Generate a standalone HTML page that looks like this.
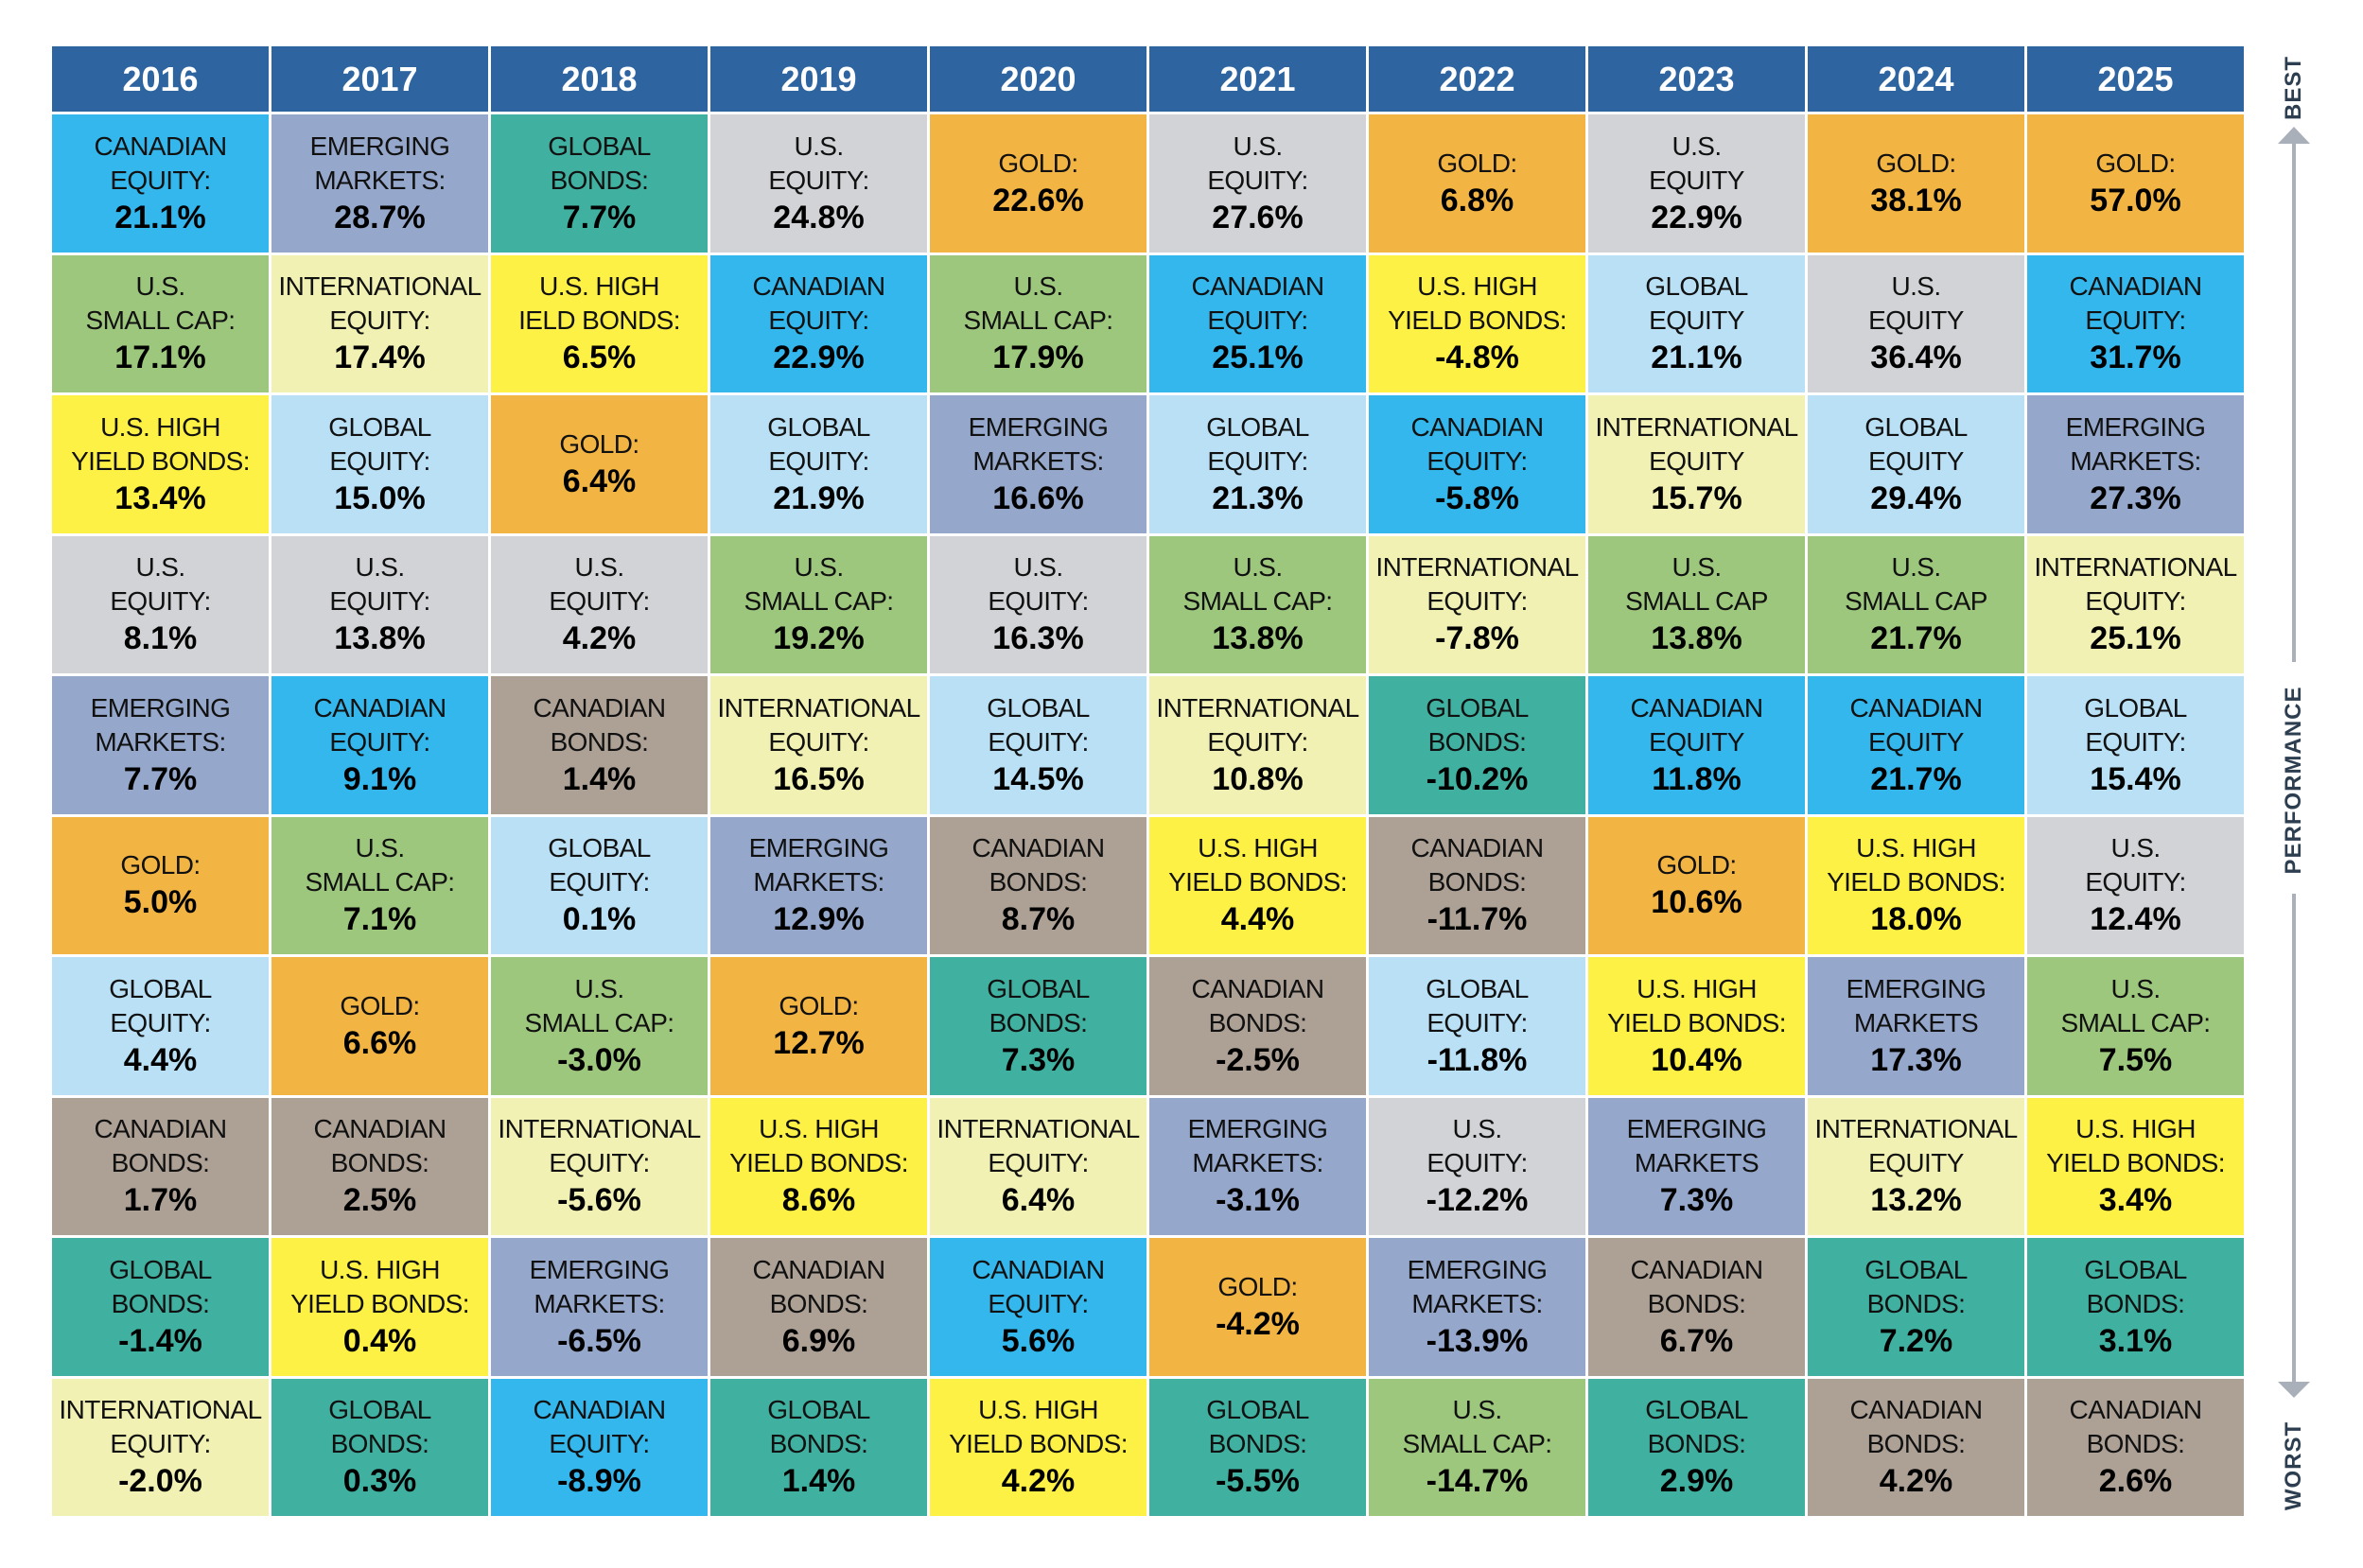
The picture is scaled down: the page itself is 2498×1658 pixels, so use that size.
<!DOCTYPE html>
<html><head><meta charset="utf-8"><style>
body{margin:0;width:2498px;height:1658px;background:#fff;position:relative;overflow:hidden;font-family:"Liberation Sans",sans-serif}
.g{position:absolute;left:55px;display:grid;grid-template-columns:repeat(10,229px);column-gap:3px}
.h{top:49px;height:69px}
.h div{background:#2e65a0;color:#fff;font-weight:bold;font-size:36px;display:flex;align-items:center;justify-content:center}
.b{top:121px;grid-template-rows:repeat(10,145.5px);row-gap:3px;grid-auto-flow:column}
.b div{display:flex;flex-direction:column;justify-content:center;align-items:center;text-align:center;font-size:28px;line-height:36px;letter-spacing:-0.6px;color:#111;white-space:nowrap}
.b b{display:block;font-size:34px;line-height:42px;letter-spacing:0;color:#000}
.ce{background:#33b7ec}.em{background:#95a7cb}.gb{background:#40b0a0}.ue{background:#d1d3d6}.go{background:#f2b544}
.sc{background:#9dc77d}.ie{background:#f1f1b4}.hy{background:#fef146}.ge{background:#b9e0f5}.cb{background:#ada196}
.side{position:absolute;color:#2c3e50;font-weight:bold;font-size:24px;letter-spacing:1px;transform:rotate(-90deg);transform-origin:center;white-space:nowrap;text-align:center}
</style></head><body>
<div class="g h"><div>2016</div><div>2017</div><div>2018</div><div>2019</div><div>2020</div><div>2021</div><div>2022</div><div>2023</div><div>2024</div><div>2025</div></div>
<div class="g b">
<div class="ce">CANADIAN<br>EQUITY:<b>21.1%</b></div>
<div class="sc">U.S.<br>SMALL CAP:<b>17.1%</b></div>
<div class="hy">U.S. HIGH<br>YIELD BONDS:<b>13.4%</b></div>
<div class="ue">U.S.<br>EQUITY:<b>8.1%</b></div>
<div class="em">EMERGING<br>MARKETS:<b>7.7%</b></div>
<div class="go">GOLD:<b>5.0%</b></div>
<div class="ge">GLOBAL<br>EQUITY:<b>4.4%</b></div>
<div class="cb">CANADIAN<br>BONDS:<b>1.7%</b></div>
<div class="gb">GLOBAL<br>BONDS:<b>-1.4%</b></div>
<div class="ie">INTERNATIONAL<br>EQUITY:<b>-2.0%</b></div>

<div class="em">EMERGING<br>MARKETS:<b>28.7%</b></div>
<div class="ie">INTERNATIONAL<br>EQUITY:<b>17.4%</b></div>
<div class="ge">GLOBAL<br>EQUITY:<b>15.0%</b></div>
<div class="ue">U.S.<br>EQUITY:<b>13.8%</b></div>
<div class="ce">CANADIAN<br>EQUITY:<b>9.1%</b></div>
<div class="sc">U.S.<br>SMALL CAP:<b>7.1%</b></div>
<div class="go">GOLD:<b>6.6%</b></div>
<div class="cb">CANADIAN<br>BONDS:<b>2.5%</b></div>
<div class="hy">U.S. HIGH<br>YIELD BONDS:<b>0.4%</b></div>
<div class="gb">GLOBAL<br>BONDS:<b>0.3%</b></div>

<div class="gb">GLOBAL<br>BONDS:<b>7.7%</b></div>
<div class="hy">U.S. HIGH<br>IELD BONDS:<b>6.5%</b></div>
<div class="go">GOLD:<b>6.4%</b></div>
<div class="ue">U.S.<br>EQUITY:<b>4.2%</b></div>
<div class="cb">CANADIAN<br>BONDS:<b>1.4%</b></div>
<div class="ge">GLOBAL<br>EQUITY:<b>0.1%</b></div>
<div class="sc">U.S.<br>SMALL CAP:<b>-3.0%</b></div>
<div class="ie">INTERNATIONAL<br>EQUITY:<b>-5.6%</b></div>
<div class="em">EMERGING<br>MARKETS:<b>-6.5%</b></div>
<div class="ce">CANADIAN<br>EQUITY:<b>-8.9%</b></div>

<div class="ue">U.S.<br>EQUITY:<b>24.8%</b></div>
<div class="ce">CANADIAN<br>EQUITY:<b>22.9%</b></div>
<div class="ge">GLOBAL<br>EQUITY:<b>21.9%</b></div>
<div class="sc">U.S.<br>SMALL CAP:<b>19.2%</b></div>
<div class="ie">INTERNATIONAL<br>EQUITY:<b>16.5%</b></div>
<div class="em">EMERGING<br>MARKETS:<b>12.9%</b></div>
<div class="go">GOLD:<b>12.7%</b></div>
<div class="hy">U.S. HIGH<br>YIELD BONDS:<b>8.6%</b></div>
<div class="cb">CANADIAN<br>BONDS:<b>6.9%</b></div>
<div class="gb">GLOBAL<br>BONDS:<b>1.4%</b></div>

<div class="go">GOLD:<b>22.6%</b></div>
<div class="sc">U.S.<br>SMALL CAP:<b>17.9%</b></div>
<div class="em">EMERGING<br>MARKETS:<b>16.6%</b></div>
<div class="ue">U.S.<br>EQUITY:<b>16.3%</b></div>
<div class="ge">GLOBAL<br>EQUITY:<b>14.5%</b></div>
<div class="cb">CANADIAN<br>BONDS:<b>8.7%</b></div>
<div class="gb">GLOBAL<br>BONDS:<b>7.3%</b></div>
<div class="ie">INTERNATIONAL<br>EQUITY:<b>6.4%</b></div>
<div class="ce">CANADIAN<br>EQUITY:<b>5.6%</b></div>
<div class="hy">U.S. HIGH<br>YIELD BONDS:<b>4.2%</b></div>

<div class="ue">U.S.<br>EQUITY:<b>27.6%</b></div>
<div class="ce">CANADIAN<br>EQUITY:<b>25.1%</b></div>
<div class="ge">GLOBAL<br>EQUITY:<b>21.3%</b></div>
<div class="sc">U.S.<br>SMALL CAP:<b>13.8%</b></div>
<div class="ie">INTERNATIONAL<br>EQUITY:<b>10.8%</b></div>
<div class="hy">U.S. HIGH<br>YIELD BONDS:<b>4.4%</b></div>
<div class="cb">CANADIAN<br>BONDS:<b>-2.5%</b></div>
<div class="em">EMERGING<br>MARKETS:<b>-3.1%</b></div>
<div class="go">GOLD:<b>-4.2%</b></div>
<div class="gb">GLOBAL<br>BONDS:<b>-5.5%</b></div>

<div class="go">GOLD:<b>6.8%</b></div>
<div class="hy">U.S. HIGH<br>YIELD BONDS:<b>-4.8%</b></div>
<div class="ce">CANADIAN<br>EQUITY:<b>-5.8%</b></div>
<div class="ie">INTERNATIONAL<br>EQUITY:<b>-7.8%</b></div>
<div class="gb">GLOBAL<br>BONDS:<b>-10.2%</b></div>
<div class="cb">CANADIAN<br>BONDS:<b>-11.7%</b></div>
<div class="ge">GLOBAL<br>EQUITY:<b>-11.8%</b></div>
<div class="ue">U.S.<br>EQUITY:<b>-12.2%</b></div>
<div class="em">EMERGING<br>MARKETS:<b>-13.9%</b></div>
<div class="sc">U.S.<br>SMALL CAP:<b>-14.7%</b></div>

<div class="ue">U.S.<br>EQUITY<b>22.9%</b></div>
<div class="ge">GLOBAL<br>EQUITY<b>21.1%</b></div>
<div class="ie">INTERNATIONAL<br>EQUITY<b>15.7%</b></div>
<div class="sc">U.S.<br>SMALL CAP<b>13.8%</b></div>
<div class="ce">CANADIAN<br>EQUITY<b>11.8%</b></div>
<div class="go">GOLD:<b>10.6%</b></div>
<div class="hy">U.S. HIGH<br>YIELD BONDS:<b>10.4%</b></div>
<div class="em">EMERGING<br>MARKETS<b>7.3%</b></div>
<div class="cb">CANADIAN<br>BONDS:<b>6.7%</b></div>
<div class="gb">GLOBAL<br>BONDS:<b>2.9%</b></div>

<div class="go">GOLD:<b>38.1%</b></div>
<div class="ue">U.S.<br>EQUITY<b>36.4%</b></div>
<div class="ge">GLOBAL<br>EQUITY<b>29.4%</b></div>
<div class="sc">U.S.<br>SMALL CAP<b>21.7%</b></div>
<div class="ce">CANADIAN<br>EQUITY<b>21.7%</b></div>
<div class="hy">U.S. HIGH<br>YIELD BONDS:<b>18.0%</b></div>
<div class="em">EMERGING<br>MARKETS<b>17.3%</b></div>
<div class="ie">INTERNATIONAL<br>EQUITY<b>13.2%</b></div>
<div class="gb">GLOBAL<br>BONDS:<b>7.2%</b></div>
<div class="cb">CANADIAN<br>BONDS:<b>4.2%</b></div>

<div class="go">GOLD:<b>57.0%</b></div>
<div class="ce">CANADIAN<br>EQUITY:<b>31.7%</b></div>
<div class="em">EMERGING<br>MARKETS:<b>27.3%</b></div>
<div class="ie">INTERNATIONAL<br>EQUITY:<b>25.1%</b></div>
<div class="ge">GLOBAL<br>EQUITY:<b>15.4%</b></div>
<div class="ue">U.S.<br>EQUITY:<b>12.4%</b></div>
<div class="sc">U.S.<br>SMALL CAP:<b>7.5%</b></div>
<div class="hy">U.S. HIGH<br>YIELD BONDS:<b>3.4%</b></div>
<div class="gb">GLOBAL<br>BONDS:<b>3.1%</b></div>
<div class="cb">CANADIAN<br>BONDS:<b>2.6%</b></div>
</div>

<svg style="position:absolute;left:0;top:0" width="2498" height="1658">
<g fill="#a9b0ba" stroke="#a9b0ba">
<line x1="2425" y1="150" x2="2425" y2="700" stroke-width="4"/>
<line x1="2425" y1="945" x2="2425" y2="1465" stroke-width="4"/>
<polygon points="2408,152 2442,152 2425,134" stroke="none"/>
<polygon points="2408,1461 2442,1461 2425,1478" stroke="none"/>
</g>
</svg>
<div class="side" style="left:2375px;top:78px;width:100px;height:30px;line-height:30px">BEST</div>
<div class="side" style="left:2300px;top:810px;width:250px;height:30px;line-height:30px">PERFORMANCE</div>
<div class="side" style="left:2375px;top:1535px;width:100px;height:30px;line-height:30px">WORST</div>
</body></html>
